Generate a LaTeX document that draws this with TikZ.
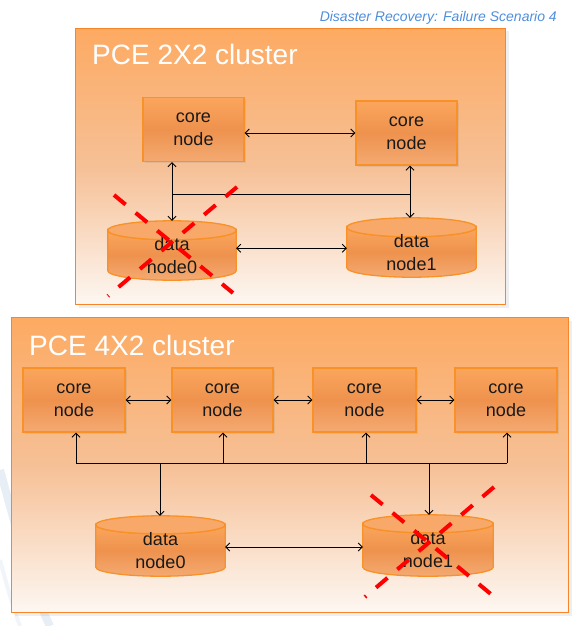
\documentclass[tikz,border=0pt]{standalone}
\usepackage{fontspec}
\setmainfont{Liberation Sans}
\usetikzlibrary{arrows.meta,calc,shadows}
\pgfdeclarelayer{back}
\pgfdeclarelayer{mid}
\pgfsetlayers{back,mid,main}

\definecolor{clborder}{RGB}{247,134,42}
\definecolor{cltop}{RGB}{253,170,98}
\definecolor{clmid}{RGB}{246,192,150}
\definecolor{clbot}{RGB}{253,247,242}
\definecolor{ndborder}{RGB}{248,145,40}
\definecolor{ndtop}{RGB}{251,166,92}
\definecolor{ndmid}{RGB}{238,146,78}
\definecolor{ndbot}{RGB}{244,170,114}
\definecolor{cyltopfill}{RGB}{248,168,104}
\definecolor{titleblue}{RGB}{79,143,219}
\definecolor{swooshcol}{RGB}{232,238,245}

\newcommand\cylshape[2]{%
  \path[cylbody] let \p1=(#1.north west), \p2=(#1.north east), \n1={(\x2-\x1)/2} in
    (#1.north west) -- ($(#1.south west)+(0pt,#2pt)$)
    arc[start angle=180,end angle=360,x radius=\n1,y radius=#2pt]
    -- (#1.north east)
    arc[start angle=0,end angle=-180,x radius=\n1,y radius=#2pt] -- cycle;
  \path[cyltop] let \p1=(#1.north west), \p2=(#1.north east), \n1={(\x2-\x1)/2} in
    (#1.north) ellipse[x radius=\n1, y radius=#2pt];
}

\begin{document}
\begin{tikzpicture}[x=1pt,y=-1pt,
  cluster/.style={draw=clborder, line width=1.8pt, top color=cltop, bottom color=clbot, middle color=clmid,
    drop shadow={shadow xshift=3pt, shadow yshift=-3pt, opacity=0.12}, inner sep=0pt},
  corenode/.style={draw=ndborder, line width=1.4pt, top color=ndtop, bottom color=ndbot, middle color=ndmid,
    minimum width=101pt, minimum height=64pt, inner sep=0pt, align=center,
    font=\fontsize{18}{23}\selectfont, text=black!90,
    drop shadow={shadow xshift=1.5pt, shadow yshift=-1.5pt, opacity=0.15}},
  datanode/.style={inner sep=0pt, align=center, font=\fontsize{18}{23}\selectfont, text=black!90},
  cylbody/.style={draw=ndborder, line width=1.3pt, top color=ndtop, bottom color=ndbot, middle color=ndmid},
  cyltop/.style={draw=ndborder, line width=1.3pt, fill=cyltopfill},
  titletext/.style={text=white, font=\fontsize{28}{32}\selectfont, inner sep=0pt},
  headtext/.style={text=titleblue, font=\fontsize{14}{16}\selectfont\itshape, inner sep=0pt},
  wire/.style={draw=black, line width=0.8pt},
  towire/.style={wire, -{Straight Barb[length=4pt,width=8pt]}},
  bothwire/.style={wire, {Straight Barb[length=4pt,width=8pt]}-{Straight Barb[length=4pt,width=8pt]}},
  xmark/.style={draw=red, line width=4pt, dash pattern=on 15pt off 13pt},
  swooshline/.style={draw=swooshcol, line width=8pt}
]
\useasboundingbox (0,0) rectangle (580,626);

\begin{pgfonlayer}{back}
  \fill[white] (0,0) rectangle (580,626);
  \draw[swooshline] (0,470) .. controls (18,535) and (32,590) .. (50,626);
  \draw[swooshline, line width=4pt, opacity=0.6] (0,560) .. controls (8,590) and (14,610) .. (20,626);
  \node[cluster, minimum width=430pt, minimum height=276pt] (cl1) at (290.5,166.5) {};
  \node[cluster, minimum width=557pt, minimum height=295pt] (cl2) at (290,465) {};
\end{pgfonlayer}

% titles
\node[headtext, anchor=base east] (hd) at (557,22) {Disaster Recovery: Failure Scenario 4};
\node[titletext, anchor=base west] (t1) at (92,64) {PCE 2X2 cluster};
\node[titletext, anchor=base west] (t2) at (29,355) {PCE 4X2 cluster};

% top cluster nodes
\node[corenode] (a1) at (193.5,129.5) {core\\node};
\node[corenode] (a2) at (406.5,133) {core\\node};
\node[datanode, minimum width=128pt, minimum height=49.5pt] (ad0) at (172,255.25) {data\\node0};
\node[datanode, minimum width=129pt, minimum height=49.5pt] (ad1) at (411.5,252.25) {data\\node1};

% bottom cluster nodes
\node[corenode, minimum width=102pt] (b1) at (74,400) {core\\node};
\node[corenode, minimum width=101pt] (b2) at (222.5,400) {core\\node};
\node[corenode, minimum width=103pt] (b3) at (364.5,400) {core\\node};
\node[corenode, minimum width=102pt] (b4) at (506,400) {core\\node};
\node[datanode, minimum width=129pt, minimum height=51pt] (bd0) at (160.5,550.5) {data\\node0};
\node[datanode, minimum width=130pt, minimum height=52pt] (bd1) at (428,550) {data\\node1};

\begin{pgfonlayer}{mid}
  \cylshape{ad0}{9.5}
  \cylshape{ad1}{9.5}
  \cylshape{bd0}{9}
  \cylshape{bd1}{9}
\end{pgfonlayer}

\coordinate (ad0top) at ([yshift=9.5pt]ad0.north);
\coordinate (ad1top) at ([yshift=9.5pt]ad1.north);
\coordinate (bd0top) at ([yshift=9pt]bd0.north);
\coordinate (bd1top) at ([yshift=9pt]bd1.north);

% top connectors
\draw[bothwire] ([yshift=-3.5pt]a1.east) -- ([yshift=-3.5pt]a1.east -| a2.west);
\coordinate (p1) at (172,194);
\coordinate (p2) at (410,194);
\draw[wire] (p1) -- (p2);
\draw[towire] (p1) -- (p1 |- a1.south);
\draw[towire] (p1) -- (p1 |- ad0top);
\draw[towire] (p2) -- (p2 |- a2.south);
\draw[towire] (p2) -- (p2 |- ad1top);
\draw[bothwire] ([yshift=7pt]ad0.east) -- ([yshift=7pt]ad0.east -| ad1.west);

% bottom connectors
\draw[bothwire] (b1) -- (b2);
\draw[bothwire] (b2) -- (b3);
\draw[bothwire] (b3) -- (b4);
\coordinate (q1) at (76,463);
\coordinate (q2) at (223,463);
\coordinate (q3) at (366,463);
\coordinate (q4) at (507,463);
\coordinate (r0) at (160,463);
\coordinate (r1) at (429,463);
\draw[wire] (q1) -- (q4);
\draw[towire] (q1) -- (q1 |- b1.south);
\draw[towire] (q2) -- (q2 |- b2.south);
\draw[towire] (q3) -- (q3 |- b3.south);
\draw[towire] (q4) -- (q4 |- b4.south);
\draw[towire] (r0) -- (r0 |- bd0top);
\draw[towire] (r1) -- (r1 |- bd1top);
\draw[bothwire] ([yshift=3.5pt]bd0.east) -- ([yshift=3.5pt]bd0.east -| bd1.west);

% failure marks
\draw[xmark] (114,195) -- (233,293);
\draw[xmark] (237,187) -- (108,296);
\draw[xmark] (371,495) -- (492,595);
\draw[xmark] (494,487) -- (365,597);
\end{tikzpicture}
\end{document}
